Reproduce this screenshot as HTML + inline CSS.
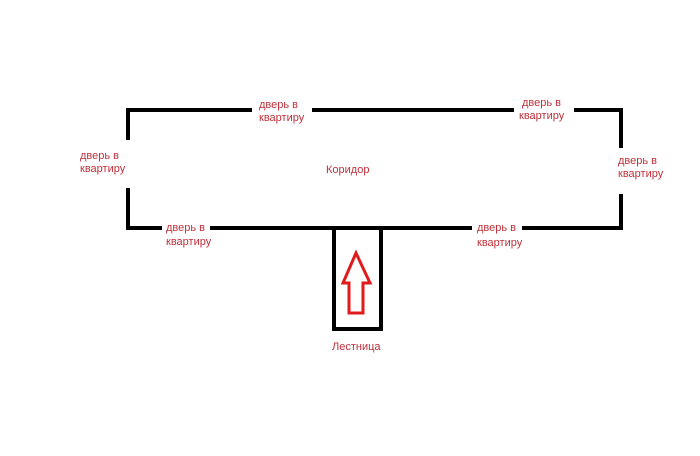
<!DOCTYPE html>
<html><head><meta charset="utf-8"><style>
body{margin:0;background:#fff;width:700px;height:451px;overflow:hidden}
text{font-family:"Liberation Sans",sans-serif;font-size:11px;fill:#c0303a}
</style></head><body>
<svg width="700" height="451" xmlns="http://www.w3.org/2000/svg">
<g stroke="#000" stroke-width="4" fill="none" stroke-linecap="square">
<polyline points="128,138 128,110 250,110"/>
<line x1="314" y1="110" x2="512" y2="110"/>
<polyline points="576,110 621,110 621,146"/>
<polyline points="621,196 621,228 524,228"/>
<line x1="470" y1="228" x2="212" y2="228"/>
<polyline points="160,228 128,228 128,190"/>
<polyline points="334,228 334,329 381,329 381,228"/>
</g>
<polygon points="356,253 370,283 363,283 363,313 349,313 349,283 343,283" fill="none" stroke="#e01b1b" stroke-width="3" stroke-linejoin="miter"/>
<text x="259" y="108">дверь в</text><text x="259" y="121">квартиру</text>
<text x="522" y="106">дверь в</text><text x="519" y="119">квартиру</text>
<text x="80" y="159">дверь в</text><text x="80" y="172">квартиру</text>
<text x="618" y="164">дверь в</text><text x="618" y="177">квартиру</text>
<text x="166" y="231">дверь в</text><text x="166" y="245">квартиру</text>
<text x="477" y="231">дверь в</text><text x="477" y="246">квартиру</text>
<text x="326" y="173">Коридор</text>
<text x="332" y="350">Лестница</text>
</svg>
</body></html>
